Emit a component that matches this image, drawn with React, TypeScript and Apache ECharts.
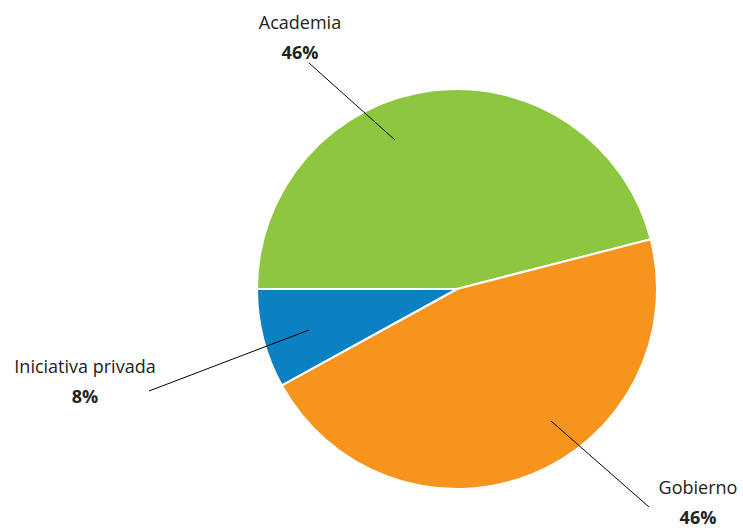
import React, { useEffect, useRef } from "react";
import * as echarts from "echarts";

const categories = ["Academia", "Gobierno", "Iniciativa privada"];
const values = [46, 46, 8];
const colors = ["#8DC63F", "#F7941D", "#0B80C3"];
// label anchor positions (annotation placement) and leader line points
const labelPos: [number, number][] = [
  [300, 32],
  [698, 497],
  [85, 376],
];
const linePts: [number, number][][] = [
  [[395, 140], [309, 63]],
  [[551, 421], [649, 507]],
  [[309, 330], [149, 391]],
];

export default function App() {
  const ref = useRef<HTMLDivElement>(null);
  useEffect(() => {
    if (!ref.current) return;
    const chart = echarts.init(ref.current, undefined, { renderer: "svg" });
    chart.setOption({
      animation: false,
      backgroundColor: "#ffffff",
      graphic: linePts.map((pts) => ({
        type: "line",
        z: 100,
        silent: true,
        shape: { x1: pts[0][0], y1: pts[0][1], x2: pts[1][0], y2: pts[1][1] },
        style: { stroke: "#000000", lineWidth: 1 },
      })),
      series: [
        {
          type: "pie",
          center: [457, 289],
          radius: 200,
          startAngle: 180,
          clockwise: true,
          itemStyle: { borderColor: "#ffffff", borderWidth: 2 },
          emphasis: { disabled: true },
          data: categories.map((c, i) => ({
            name: c,
            value: values[i],
            itemStyle: { color: colors[i] },
          })),
          label: {
            show: true,
            position: "outside",
            formatter: (p: any) => `{n|${p.name}}\n{v|${p.value}%}`,
            align: "center",
            rich: {
              n: {
                fontFamily: "Open Sans",
                fontSize: 18,
                color: "#222222",
                lineHeight: 40,
                align: "center",
              },
              v: {
                fontFamily: "Open Sans",
                fontSize: 18,
                fontWeight: "bold",
                color: "#222222",
                lineHeight: 20,
                align: "center",
              },
            },
          },
          labelLine: { show: false },
          labelLayout: (params: any) => {
            const i = params.dataIndex;
            return {
              x: labelPos[i][0],
              y: labelPos[i][1],
              align: "center",
              verticalAlign: "middle",
            };
          },
        },
      ],
    });
    return () => chart.dispose();
  }, []);
  return (
    <div
      ref={ref}
      style={{ position: "absolute", left: 0, top: 0, width: 743, height: 531 }}
    />
  );
}
